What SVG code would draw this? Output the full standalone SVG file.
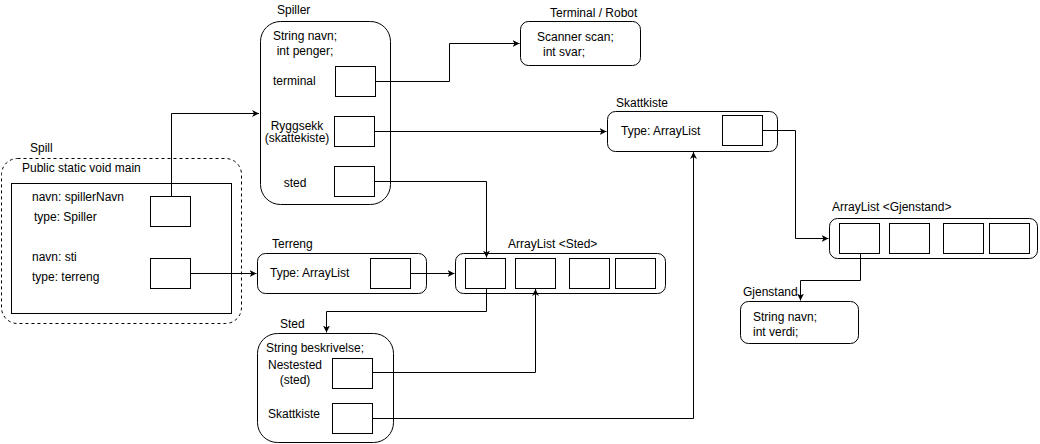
<svg xmlns="http://www.w3.org/2000/svg" width="1040" height="444" viewBox="0 0 1040 444">
<style>
text{font-family:"Liberation Sans",Arial,sans-serif;font-size:12px;fill:#000}
.c{text-anchor:middle}
.box{fill:#fff;stroke:#000;stroke-width:1}
.rnd{fill:#fff;stroke:#000;stroke-width:1}
.dash{fill:#fff;stroke:#000;stroke-width:1;stroke-dasharray:3 3}
.con{fill:none;stroke:#000;stroke-width:1;marker-end:url(#arr)}
</style>
<defs>
<marker id="arr" markerWidth="9" markerHeight="9" refX="7" refY="4.5" orient="auto" markerUnits="userSpaceOnUse">
<path d="M0,1 L7,4.5 L0,8 L2,4.5 Z" fill="#000"/>
</marker>
</defs>
<rect width="1040" height="444" fill="#fff"/>

<g id="spill">
<text x="30" y="152">Spill</text>
<rect class="dash" x="1.5" y="158.5" width="240" height="165" rx="16"/>
<text x="22" y="172">Public static void main</text>
<rect class="box" x="11.5" y="183.5" width="220" height="130"/>
<text x="32" y="201">navn: spillerNavn</text>
<text x="34" y="221">type: Spiller</text>
<rect class="box" x="150.5" y="196.5" width="40" height="30"/>
<text x="32" y="261">navn: sti</text>
<text x="32" y="281">type: terreng</text>
<rect class="box" x="150.5" y="258.5" width="40" height="30"/>
</g>

<g id="spiller">
<text x="277" y="14">Spiller</text>
<rect class="rnd" x="260.5" y="21.5" width="130" height="183" rx="20"/>
<text class="c" x="305" y="40">String navn;</text>
<text class="c" x="305" y="55">int penger;</text>
<text x="273" y="85">terminal</text>
<rect class="box" x="335.5" y="66.5" width="40" height="30"/>
<text class="c" x="297" y="130">Ryggsekk</text>
<text class="c" x="297" y="142">(skattekiste)</text>
<rect class="box" x="334.5" y="116.5" width="40" height="30"/>
<text class="c" x="295" y="187">sted</text>
<rect class="box" x="334.5" y="166.5" width="40" height="30"/>
</g>

<g id="terminal">
<text x="550" y="17">Terminal / Robot</text>
<rect class="rnd" x="520.5" y="21.5" width="120" height="44" rx="8"/>
<text x="537" y="41">Scanner scan;</text>
<text x="543" y="56">int svar;</text>
</g>

<g id="skattkiste">
<text x="616" y="107">Skattkiste</text>
<rect class="rnd" x="607.5" y="111.5" width="170" height="40" rx="8"/>
<text x="621" y="135">Type: ArrayList</text>
<rect class="box" x="722.5" y="115.5" width="40" height="30"/>
</g>

<g id="arraylist-gjenstand">
<text x="832" y="211">ArrayList &lt;Gjenstand&gt;</text>
<rect class="rnd" x="829.5" y="218.5" width="208" height="40" rx="8"/>
<rect class="box" x="839.5" y="223.5" width="40" height="30"/>
<rect class="box" x="889.5" y="223.5" width="40" height="30"/>
<rect class="box" x="943.5" y="223.5" width="40" height="30"/>
<rect class="box" x="989.5" y="223.5" width="40" height="30"/>
</g>

<g id="gjenstand">
<text x="743" y="296">Gjenstand</text>
<rect class="rnd" x="740.5" y="301.5" width="118" height="42" rx="8"/>
<text x="753" y="321">String navn;</text>
<text x="753" y="336">int verdi;</text>
</g>

<g id="terreng">
<text x="272" y="248">Terreng</text>
<rect class="rnd" x="257.5" y="253.5" width="169" height="40" rx="8"/>
<text x="270" y="277">Type: ArrayList</text>
<rect class="box" x="370.5" y="258.5" width="40" height="30"/>
</g>

<g id="arraylist-sted">
<text x="508" y="248">ArrayList &lt;Sted&gt;</text>
<rect class="rnd" x="455.5" y="253.5" width="210" height="40" rx="8"/>
<rect class="box" x="465.5" y="258.5" width="40" height="30"/>
<rect class="box" x="515.5" y="258.5" width="40" height="30"/>
<rect class="box" x="569.5" y="258.5" width="40" height="30"/>
<rect class="box" x="615.5" y="258.5" width="40" height="30"/>
</g>

<g id="sted">
<text x="280" y="328">Sted</text>
<rect class="rnd" x="257.5" y="333.5" width="136" height="109" rx="20"/>
<text x="266" y="352">String beskrivelse;</text>
<text class="c" x="295" y="369">Nestested</text>
<text class="c" x="295" y="384">(sted)</text>
<rect class="box" x="332.5" y="358.5" width="40" height="30"/>
<text x="268" y="418">Skattkiste</text>
<rect class="box" x="332.5" y="403.5" width="40" height="30"/>
</g>

<g id="connectors">
<path class="con" d="M171.5,196 V113.5 H259"/>
<path class="con" d="M375,81.5 H449.5 V43.5 H519.5"/>
<path class="con" d="M375,131.5 H606.5"/>
<path class="con" d="M375,181.5 H486.5 V257.5"/>
<path class="con" d="M191,273.5 H256.5"/>
<path class="con" d="M411,273.5 H454.5"/>
<path class="con" d="M486.5,289 V311.5 H326.5 V332.5"/>
<path class="con" d="M373,372.5 H535.5 V289"/>
<path class="con" d="M373,418.5 H693.5 V152"/>
<path class="con" d="M763,130.5 H795.5 V238.5 H828.5"/>
<path class="con" d="M860.5,254 V280.5 H800.5 V300.5"/>
</g>
</svg>
